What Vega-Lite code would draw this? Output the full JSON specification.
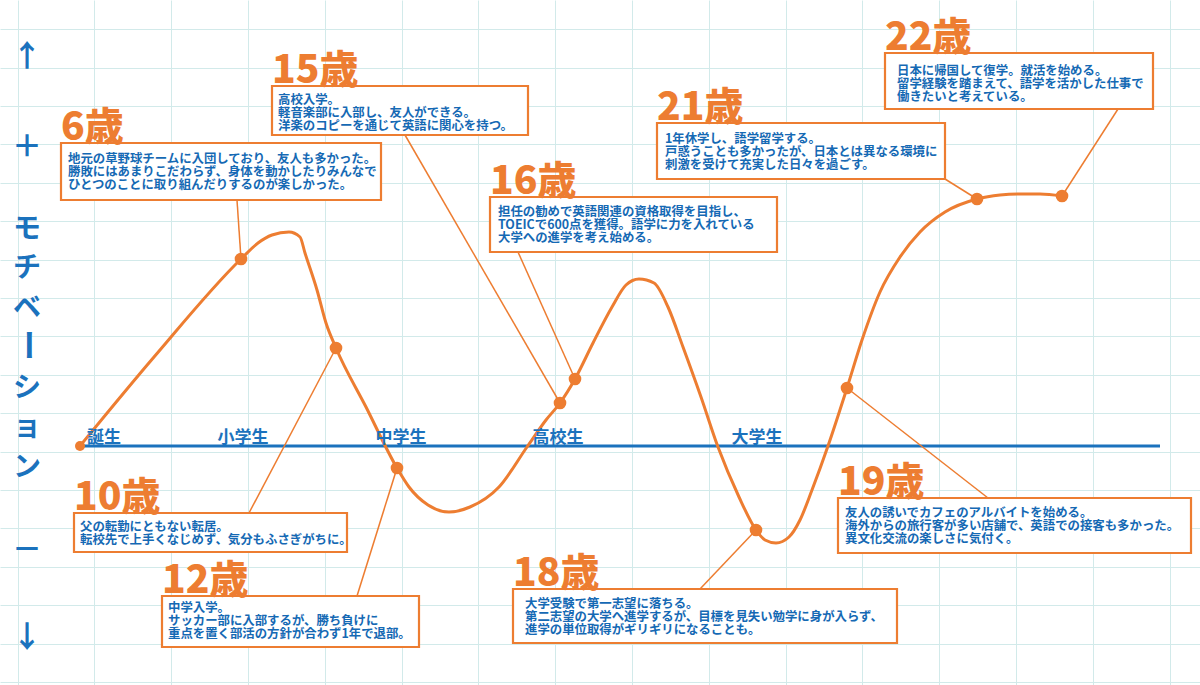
{
  "$schema": "https://vega.github.io/schema/vega-lite/v6.json",
  "autosize": {"type": "fit", "contains": "padding"},
  "width": 1200,
  "height": 685,
  "padding": 0,
  "background": "#ffffff",
  "config": {
    "view": {"stroke": null},
    "font": "Noto Sans CJK JP",
    "axis": {"grid": true, "labels": false, "ticks": false, "domain": false, "gridColor": "#d2eaea", "gridWidth": 1, "gridOpacity": 1}
  },
  "datasets": {
    "curve": [
      {"x": 80, "y": 0}, {"x": 154, "y": 89}, {"x": 241, "y": 187}, {"x": 258, "y": 203},
      {"x": 272, "y": 211}, {"x": 289, "y": 214}, {"x": 300, "y": 209}, {"x": 305, "y": 193},
      {"x": 317, "y": 156}, {"x": 326, "y": 123}, {"x": 336, "y": 98}, {"x": 366, "y": 39},
      {"x": 397, "y": -22}, {"x": 409, "y": -41}, {"x": 428, "y": -59}, {"x": 449, "y": -66},
      {"x": 470, "y": -61}, {"x": 499, "y": -41}, {"x": 527, "y": -1}, {"x": 546, "y": 26},
      {"x": 560, "y": 43}, {"x": 575, "y": 67}, {"x": 593, "y": 103}, {"x": 612, "y": 139},
      {"x": 626, "y": 161}, {"x": 639, "y": 167}, {"x": 654, "y": 163}, {"x": 668, "y": 139},
      {"x": 683, "y": 99}, {"x": 701, "y": 49}, {"x": 718, "y": -1}, {"x": 739, "y": -51},
      {"x": 756, "y": -84}, {"x": 765, "y": -94}, {"x": 776, "y": -97}, {"x": 789, "y": -91},
      {"x": 800, "y": -74}, {"x": 812, "y": -44}, {"x": 828, "y": 0}, {"x": 847, "y": 58},
      {"x": 862, "y": 106}, {"x": 880, "y": 154}, {"x": 900, "y": 189}, {"x": 920, "y": 214},
      {"x": 945, "y": 234}, {"x": 977, "y": 247}, {"x": 1000, "y": 251}, {"x": 1020, "y": 252},
      {"x": 1040, "y": 252}, {"x": 1062, "y": 250}
    ],
    "dots": [
      {"x": 241, "y": 187}, {"x": 336, "y": 98}, {"x": 397, "y": -22}, {"x": 560, "y": 43},
      {"x": 575, "y": 67}, {"x": 756, "y": -84}, {"x": 847, "y": 58}, {"x": 977, "y": 247},
      {"x": 1062, "y": 250}
    ],
    "leaders": [
      {"age": "6歳", "x": 237, "y": 246, "x2": 241, "y2": 187},
      {"age": "15歳", "x": 405, "y": 311, "x2": 560, "y2": 43},
      {"age": "16歳", "x": 518, "y": 194, "x2": 575, "y2": 67},
      {"age": "21歳", "x": 945, "y": 267, "x2": 977, "y2": 247},
      {"age": "22歳", "x": 1118, "y": 337, "x2": 1062, "y2": 250},
      {"age": "10歳", "x": 249, "y": -67, "x2": 336, "y2": 98},
      {"age": "12歳", "x": 357, "y": -150, "x2": 397, "y2": -22},
      {"age": "18歳", "x": 700, "y": -143, "x2": 756, "y2": -84},
      {"age": "19歳", "x": 988, "y": -52, "x2": 847, "y2": 58}
    ],
    "boxes": [
      {"age": "6歳", "bx1": 61, "bx2": 381, "yt": 303, "yb": 246, "tx": 68, "ty": 293,
       "desc": "地元の草野球チームに入団しており、友人も多かった。\n勝敗にはあまりこだわらず、身体を動かしたりみんなで\nひとつのことに取り組んだりするのが楽しかった。"},
      {"age": "15歳", "bx1": 272, "bx2": 528, "yt": 360, "yb": 311, "tx": 278, "ty": 352,
       "desc": "高校入学。\n軽音楽部に入部し、友人ができる。\n洋楽のコピーを通じて英語に関心を持つ。"},
      {"age": "16歳", "bx1": 490, "bx2": 777, "yt": 249, "yb": 194, "tx": 498, "ty": 240,
       "desc": "担任の勧めで英語関連の資格取得を目指し、\nTOEICで600点を獲得。語学に力を入れている\n大学への進学を考え始める。"},
      {"age": "21歳", "bx1": 657, "bx2": 945, "yt": 323, "yb": 267, "tx": 665, "ty": 313,
       "desc": "1年休学し、語学留学する。\n戸惑うことも多かったが、日本とは異なる環境に\n刺激を受けて充実した日々を過ごす。"},
      {"age": "22歳", "bx1": 885, "bx2": 1153, "yt": 393, "yb": 337, "tx": 897, "ty": 381,
       "desc": "日本に帰国して復学。就活を始める。\n留学経験を踏まえて、語学を活かした仕事で\n働きたいと考えている。"},
      {"age": "10歳", "bx1": 74, "bx2": 347, "yt": -67, "yb": -106, "tx": 80, "ty": -74.5,
       "desc": "父の転勤にともない転居。\n転校先で上手くなじめず、気分もふさぎがちに。"},
      {"age": "12歳", "bx1": 162, "bx2": 419, "yt": -150, "yb": -201, "tx": 168, "ty": -156,
       "desc": "中学入学。\nサッカー部に入部するが、勝ち負けに\n重点を置く部活の方針が合わず1年で退部。"},
      {"age": "18歳", "bx1": 513, "bx2": 897, "yt": -143, "yb": -197, "tx": 525, "ty": -152,
       "desc": "大学受験で第一志望に落ちる。\n第二志望の大学へ進学するが、目標を見失い勉学に身が入らず、\n進学の単位取得がギリギリになることも。"},
      {"age": "19歳", "bx1": 838, "bx2": 1191, "yt": -52, "yb": -107, "tx": 845, "ty": -61,
       "desc": "友人の誘いでカフェのアルバイトを始める。\n海外からの旅行客が多い店舗で、英語での接客も多かった。\n異文化交流の楽しさに気付く。"}
    ],
    "stages": [
      {"label": "誕生", "x": 104, "y": 8},
      {"label": "小学生", "x": 243, "y": 8},
      {"label": "中学生", "x": 401, "y": 8},
      {"label": "高校生", "x": 558, "y": 8},
      {"label": "大学生", "x": 757, "y": 8}
    ],
    "ysigns": [
      {"t": "↑", "x": 27, "y": 389},
      {"t": "＋", "x": 27, "y": 299},
      {"t": "－", "x": 27, "y": -104},
      {"t": "↓", "x": 27, "y": -192}
    ],
    "yword": [
      {"t": "モ\nチ\nベ", "x": 27, "y": 230.5},
      {"t": "シ\nョ\nン", "x": 27, "y": 71.5}
    ]
  },
  "layer": [
    {
      "data": {"values": [{"x": 80, "x2": 1160, "y": 0}]},
      "mark": {"type": "rule", "stroke": "#1b72bd", "strokeWidth": 3},
      "encoding": {
        "x": {"field": "x", "type": "quantitative", "title": null,
              "scale": {"domain": [0, 1200], "nice": false, "zero": false},
              "axis": {"grid": true, "labels": false, "ticks": false, "domain": false, "title": null,
                       "gridColor": "#d2eaea", "gridWidth": 1,
                       "values": [17.5, 36.7, 55.9, 75.1, 94.3, 113.5, 132.7, 151.9, 171.1, 190.3, 209.5, 228.7, 247.9, 267.1, 286.3, 305.5, 324.7, 343.9, 363.1, 382.3, 401.5, 420.7, 439.9, 459.1, 478.3, 497.5, 516.7, 535.9, 555.1, 574.3, 593.5, 612.7, 631.9, 651.1, 670.3, 689.5, 708.7, 727.9, 747.1, 766.3, 785.5, 804.7, 823.9, 843.1, 862.3, 881.5, 900.7, 919.9, 939.1, 958.3, 977.5, 996.7, 1015.9, 1035.1, 1054.3, 1073.5, 1092.7, 1111.9, 1131.1, 1150.3, 1169.5, 1188.7]}},
        "x2": {"field": "x2"},
        "y": {"field": "y", "type": "quantitative", "title": null,
              "scale": {"domain": [-239, 446], "nice": false, "zero": false},
              "axis": {"grid": true, "labels": false, "ticks": false, "domain": false, "title": null,
                       "gridColor": "#d2eaea", "gridWidth": 1,
                       "values": [436, 416.8, 397.6, 378.4, 359.2, 340, 320.8, 301.6, 282.4, 263.2, 244, 224.8, 205.6, 186.4, 167.2, 148, 128.8, 109.6, 90.4, 71.2, 52, 32.8, 13.6, -5.6, -24.8, -44, -63.2, -82.4, -101.6, -120.8, -140, -159.2, -178.4, -197.6, -216.8, -236]}}
      }
    },
    {
      "data": {"name": "leaders"},
      "mark": {"type": "rule", "stroke": "#ed7d31", "strokeWidth": 1.5},
      "encoding": {
        "x": {"field": "x", "type": "quantitative", "title": null},
        "y": {"field": "y", "type": "quantitative", "title": null},
        "x2": {"field": "x2"},
        "y2": {"field": "y2"}
      }
    },
    {
      "data": {"name": "curve"},
      "mark": {"type": "line", "interpolate": "monotone", "stroke": "#ed7d31", "strokeWidth": 3},
      "encoding": {
        "x": {"field": "x", "type": "quantitative", "title": null},
        "y": {"field": "y", "type": "quantitative", "title": null}
      }
    },
    {
      "data": {"name": "dots"},
      "mark": {"type": "circle", "color": "#ed7d31", "opacity": 1, "size": 160},
      "encoding": {
        "x": {"field": "x", "type": "quantitative", "title": null},
        "y": {"field": "y", "type": "quantitative", "title": null}
      }
    },
    {
      "data": {"values": [{"x": 80, "y": 0}]},
      "mark": {"type": "circle", "color": "#ed7d31", "opacity": 1, "size": 100},
      "encoding": {
        "x": {"field": "x", "type": "quantitative", "title": null},
        "y": {"field": "y", "type": "quantitative", "title": null}
      }
    },
    {
      "data": {"name": "stages"},
      "mark": {"type": "text", "font": "Noto Sans CJK JP", "fontWeight": "bold", "fontSize": 17, "fill": "#1b72bd", "align": "center", "baseline": "middle"},
      "encoding": {
        "x": {"field": "x", "type": "quantitative", "title": null},
        "y": {"field": "y", "type": "quantitative", "title": null},
        "text": {"field": "label"}
      }
    },
    {
      "data": {"name": "boxes"},
      "mark": {"type": "rect", "fill": "#ffffff", "stroke": "#ed7d31", "strokeWidth": 2.2},
      "encoding": {
        "x": {"field": "bx1", "type": "quantitative", "title": null},
        "x2": {"field": "bx2"},
        "y": {"field": "yt", "type": "quantitative", "title": null},
        "y2": {"field": "yb"}
      }
    },
    {
      "data": {"name": "boxes"},
      "mark": {"type": "text", "font": "Noto Sans CJK JP", "fontWeight": "bold", "fontSize": 12.4, "lineHeight": 13, "lineBreak": "\n", "fill": "#1569b4", "align": "left", "baseline": "top"},
      "encoding": {
        "x": {"field": "tx", "type": "quantitative", "title": null},
        "y": {"field": "ty", "type": "quantitative", "title": null},
        "text": {"field": "desc"}
      }
    },
    {
      "data": {"name": "boxes"},
      "mark": {"type": "text", "font": "Noto Sans CJK JP", "fontWeight": 900, "fontSize": 39, "fill": "#ed7d31", "align": "left", "baseline": "alphabetic", "dy": -3},
      "encoding": {
        "x": {"field": "bx1", "type": "quantitative", "title": null},
        "y": {"field": "yt", "type": "quantitative", "title": null},
        "text": {"field": "age"}
      }
    },
    {
      "data": {"name": "ysigns"},
      "mark": {"type": "text", "font": "Noto Sans CJK JP", "fontWeight": "bold", "fontSize": 30, "fill": "#1b72bd", "align": "center", "baseline": "middle"},
      "encoding": {
        "x": {"field": "x", "type": "quantitative", "title": null},
        "y": {"field": "y", "type": "quantitative", "title": null},
        "text": {"field": "t"}
      }
    },
    {
      "data": {"name": "yword"},
      "mark": {"type": "text", "font": "Noto Sans CJK JP", "fontWeight": "bold", "fontSize": 28, "lineHeight": 39.5, "lineBreak": "\n", "fill": "#1b72bd", "align": "center", "baseline": "top"},
      "encoding": {
        "x": {"field": "x", "type": "quantitative", "title": null},
        "y": {"field": "y", "type": "quantitative", "title": null},
        "text": {"field": "t"}
      }
    },
    {
      "data": {"values": [{"t": "ー", "x": 27, "y": 101}]},
      "mark": {"type": "text", "font": "Noto Sans CJK JP", "fontWeight": "bold", "fontSize": 32, "angle": 90, "fill": "#1b72bd", "align": "center", "baseline": "middle"},
      "encoding": {
        "x": {"field": "x", "type": "quantitative", "title": null},
        "y": {"field": "y", "type": "quantitative", "title": null},
        "text": {"field": "t"}
      }
    }
  ]
}
